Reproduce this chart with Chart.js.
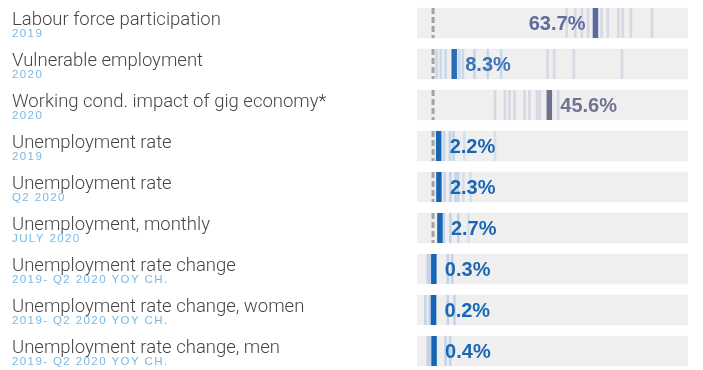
<!DOCTYPE html>
<html>
<head>
<meta charset="utf-8">
<script src="https://cdn.jsdelivr.net/npm/chart.js@4/dist/chart.umd.min.js"></script>
<style>
  html, body { margin: 0; padding: 0; background: #fff; overflow: hidden; }
</style>
</head>
<body>
<canvas id="profile" width="703" height="374"></canvas>
<script>
// Indicator rows, top to bottom
const indicators = [
  'Labour force participation',
  'Vulnerable employment',
  'Working cond. impact of gig economy*',
  'Unemployment rate',
  'Unemployment rate',
  'Unemployment, monthly',
  'Unemployment rate change',
  'Unemployment rate change, women',
  'Unemployment rate change, men'
];
const periods = [
  '2019', '2020', '2020', '2019', 'Q2 2020', 'JULY 2020',
  '2019- Q2 2020 YOY CH.', '2019- Q2 2020 YOY CH.', '2019- Q2 2020 YOY CH.'
];

// Country value (%) and the spread of peer economies per row
const values = [63.7, 8.3, 45.6, 2.2, 2.3, 2.7, 0.3, 0.2, 0.4];
const peers = [
  [52.4, 55.8, 58.4, 60.8, 66.1, 68.6, 72.7, 74.4, 77.6, 85.9],
  [1.4, 3.0, 4.9, 10.2, 11.7, 16.3, 21.5, 26.7, 44.9, 47.5, 55.2, 74.1],
  [24.3, 28.2, 30.0, 32.0, 35.9, 37.8, 40.8, 41.9, 49.1],
  [4.3, 6.6, 8.0, 12.3, 24.3],
  [4.5, 6.8, 8.8, 9.8, 11.9, 14.7],
  [4.2, 6.8, 9.9, 13.9],
  [-2.1, -1.2, 5.8, 7.5],
  [-3.0, -1.3, 5.8, 8.4],
  [-2.1, -1.1, 4.9, 6.7]
];
const refLines = [0, 0, 0, 0, 0, 0, null, null, null];
const trackRange = [-6.3, 100];

// styling
const markColors = ['#5b69a0', '#2c6cb4', '#6f6f90', '#1565b4', '#1565b4', '#1565b4', '#1565b4', '#1565b4', '#1565b4'];
const labelColors = ['#5f6c9d', '#3c74b8', '#727292', '#1b67b4', '#1b67b4', '#1b67b4', '#1b67b4', '#1b67b4', '#1b67b4'];
const peerTone = ['grey', 'mixed', 'grey', 'blue', 'blue', 'blue', 'blue', 'blue', 'blue'];

function peerColor(row, v) {
  const tone = peerTone[row];
  if (tone === 'grey') return '#d6d8e3';
  if (tone === 'mixed') return v < 30 ? '#c8d7ea' : '#d9dae3';
  return Math.abs(v) < 10 ? '#c4d4e8' : '#d6dfeb';
}

const rowIdx = indicators.map((_, i) => i);

const peerPoints = [];
peers.forEach((list, r) => list.forEach(v => peerPoints.push({ x: v, y: r, row: r })));

const refPoints = [];
refLines.forEach((v, r) => {
  if (v === null) return;
  refPoints.push({ x: v, y: r - 0.366 }, { x: v, y: r + 0.366 }, { x: v, y: null });
});

const BAR_HALF = 15;

// left-hand row titles
const rowTitles = {
  id: 'rowTitles',
  afterDraw(chart) {
    const { ctx, scales: { y } } = chart;
    ctx.save();
    ctx.textAlign = 'left';
    ctx.textBaseline = 'alphabetic';
    rowIdx.forEach(i => {
      const cy = y.getPixelForValue(i);
      ctx.font = '300 18.5px Roboto, "Helvetica Neue", Arial, sans-serif';
      ctx.fillStyle = '#454545';
      ctx.letterSpacing = '0px';
      ctx.fillText(indicators[i], 12, cy + 2);
      ctx.font = '11.5px "Liberation Sans", Arial, sans-serif';
      ctx.fillStyle = '#78b8e3';
      ctx.letterSpacing = '1.4px';
      ctx.fillText(periods[i], 12, cy + 13.5);
    });
    ctx.restore();
  }
};

// value labels beside each highlighted mark
const valueLabels = {
  id: 'valueLabels',
  afterDatasetsDraw(chart) {
    const { ctx, scales: { x, y } } = chart;
    ctx.save();
    ctx.font = 'bold 20px "Liberation Sans", Arial, sans-serif';
    ctx.textBaseline = 'middle';
    values.forEach((v, i) => {
      const px = x.getPixelForValue(v);
      const py = y.getPixelForValue(i) + 1;
      ctx.fillStyle = labelColors[i];
      if (v > 50) {
        ctx.textAlign = 'right';
        ctx.fillText(v.toFixed(1) + '%', px - 10, py);
      } else {
        ctx.textAlign = 'left';
        ctx.fillText(v.toFixed(1) + '%', px + 11, py);
      }
    });
    ctx.restore();
  }
};

new Chart(document.getElementById('profile'), {
  type: 'bar',
  data: {
    datasets: [
      {
        type: 'scatter',
        label: 'Country',
        data: values.map((v, i) => ({ x: v, y: i })),
        pointStyle: 'line',
        rotation: 90,
        pointRadius: BAR_HALF,
        pointBorderWidth: 5.5,
        pointBorderColor: ctx => markColors[ctx.dataIndex],
        order: 0
      },
      {
        type: 'line',
        label: 'Reference',
        data: refPoints,
        borderColor: '#a3a3a3',
        borderWidth: 3,
        borderDash: [6, 3],
        pointRadius: 0,
        spanGaps: false,
        order: 1
      },
      {
        type: 'scatter',
        label: 'Peers',
        data: peerPoints,
        pointStyle: 'line',
        rotation: 90,
        pointRadius: BAR_HALF,
        pointBorderWidth: 2.6,
        pointBorderColor: ctx => peerColor(ctx.raw.row, ctx.raw.x),
        order: 2
      },
      {
        type: 'bar',
        label: 'Track',
        indexAxis: 'y',
        data: rowIdx.map(i => ({ y: i, x: trackRange })),
        backgroundColor: '#efefef',
        barThickness: BAR_HALF * 2,
        order: 3
      }
    ]
  },
  options: {
    responsive: false,
    animation: false,
    layout: { autoPadding: false, padding: { left: 417, right: 15, top: 2.5, bottom: 2.5 } },
    plugins: { legend: { display: false }, tooltip: { enabled: false } },
    scales: {
      x: { type: 'linear', min: trackRange[0], max: trackRange[1], offset: false, display: false },
      y: { type: 'linear', min: -0.5, max: 8.5, reverse: true, offset: false, display: false }
    }
  },
  plugins: [valueLabels, rowTitles]
});
</script>
</body>
</html>
